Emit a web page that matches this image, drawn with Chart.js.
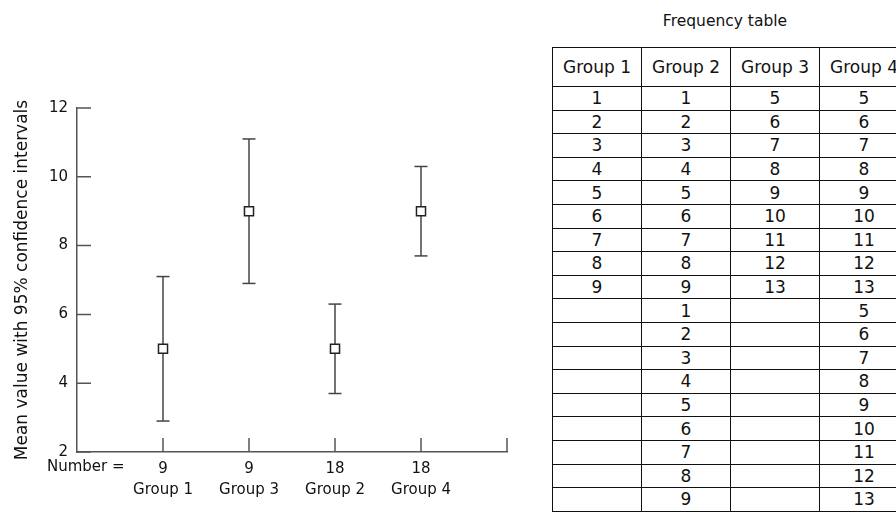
<!DOCTYPE html>
<html><head><meta charset="utf-8">
<script src="https://cdn.jsdelivr.net/npm/chart.js@4.4.0/dist/chart.umd.min.js"></script>
<style>
html,body{margin:0;padding:0;width:896px;height:513px;overflow:hidden;background:#fff;font-family:"DejaVu Sans",sans-serif;color:#111;}
#wrap{position:absolute;left:0;top:0;width:545px;height:513px;}
#title{position:absolute;left:552px;width:346px;top:12px;text-align:center;font-size:15.5px;color:#111;}
#tbl{position:absolute;left:552px;top:47px;border-collapse:collapse;table-layout:fixed;width:356px;}
#tbl td,#tbl th{border:1.5px solid #111;padding:0;text-align:center;font-weight:normal;font-size:17px;color:#111;line-height:18px;overflow:hidden;white-space:nowrap;}
#tbl tr{height:23.6px;}
#tbl tr.head{height:39px;}
</style>
</head><body>
<div id="wrap"><canvas id="c"></canvas></div>
<div id="title">Frequency table</div>
<table id="tbl"></table>
<script>
const groups = ['Group 1', 'Group 3', 'Group 2', 'Group 4'];
const counts = [9, 9, 18, 18];
const positions = [1, 2, 3, 4];
const means = [5.0, 9.0, 5.0, 9.0];
const upper = [7.1, 11.1, 6.3, 10.3];
const lower = [2.9, 6.9, 3.7, 7.7];
const yTicks = [2, 4, 6, 8, 10, 12];
const xTickMarks = [1, 2, 3, 4, 5];

const tableHeaders = ['Group 1', 'Group 2', 'Group 3', 'Group 4'];
const freqGroup1 = [1, 2, 3, 4, 5, 6, 7, 8, 9];
const freqGroup2 = [1, 2, 3, 4, 5, 6, 7, 8, 9, 1, 2, 3, 4, 5, 6, 7, 8, 9];
const freqGroup3 = [5, 6, 7, 8, 9, 10, 11, 12, 13];
const freqGroup4 = [5, 6, 7, 8, 9, 10, 11, 12, 13, 5, 6, 7, 8, 9, 10, 11, 12, 13];

// build the table
(function(){
  const cols = [freqGroup1, freqGroup2, freqGroup3, freqGroup4];
  const nRows = Math.max(...cols.map(c => c.length));
  const tbl = document.getElementById('tbl');
  let html = '<colgroup>' + tableHeaders.map(() => '<col style="width:89px">').join('') + '</colgroup>';
  html += '<tr class="head">' + tableHeaders.map(h => '<th>' + h + '</th>').join('') + '</tr>';
  for (let r = 0; r < nRows; r++) {
    html += '<tr>' + cols.map(c => '<td>' + (r < c.length ? c[r] : '') + '</td>').join('') + '</tr>';
  }
  tbl.innerHTML = html;
})();

Chart.defaults.font.family = '"DejaVu Sans", sans-serif';
Chart.defaults.color = '#111';

const axisColor = '#555';

const tickPlugin = {
  id: 'innerTicks',
  afterDraw(chart) {
    const {ctx, chartArea: a, scales: {x, y}} = chart;
    ctx.save();
    ctx.strokeStyle = axisColor;
    ctx.lineWidth = 1.5;
    ctx.beginPath();
    yTicks.forEach(v => {
      const py = y.getPixelForValue(v);
      ctx.moveTo(a.left, py);
      ctx.lineTo(a.left + 14, py);
    });
    xTickMarks.forEach(v => {
      const px = x.getPixelForValue(v);
      ctx.moveTo(px, a.bottom);
      ctx.lineTo(px, a.bottom - 14);
    });
    ctx.stroke();
    ctx.fillStyle = '#111';
    ctx.font = '15px "DejaVu Sans"';
    ctx.textBaseline = 'middle';
    ctx.textAlign = 'left';
    ctx.fillText('Number =', 47, a.bottom + 15);
    ctx.restore();
  }
};

const whiskerSets = positions.map((p, i) => ({
  type: 'line',
  data: [{x: p, y: lower[i]}, {x: p, y: upper[i]}],
  borderColor: '#444',
  borderWidth: 1.5,
  pointStyle: 'line',
  pointRadius: 6.5,
  pointHoverRadius: 6.5,
  pointBorderColor: '#444',
  pointBorderWidth: 1.5,
  fill: false,
  order: 2
}));

const markerSet = {
  type: 'scatter',
  data: positions.map((p, i) => ({x: p, y: means[i]})),
  pointStyle: 'rect',
  pointRadius: 6.4,
  pointHoverRadius: 6.4,
  backgroundColor: '#fff',
  borderColor: '#222',
  borderWidth: 1.5,
  order: 1
};

new Chart(document.getElementById('c'), {
  type: 'scatter',
  data: { datasets: [markerSet, ...whiskerSets] },
  options: {
    responsive: true,
    maintainAspectRatio: false,
    animation: false,
    events: [],
    layout: { padding: { top: 108, right: 38, left: 0, bottom: 0 } },
    plugins: { legend: { display: false }, tooltip: { enabled: false } },
    scales: {
      x: {
        type: 'linear',
        min: 0, max: 5,
        afterBuildTicks: s => { s.ticks = [0, 1, 2, 3, 4, 5].map(v => ({value: v})); },
        afterFit: s => { s.height = 61; },
        grid: { display: false, drawTicks: false },
        border: { display: true, color: axisColor, width: 1.5 },
        ticks: {
          autoSkip: false,
          maxRotation: 0,
          padding: 7,
          font: { size: 15, lineHeight: 1.4 },
          color: '#111',
          callback: v => {
            const i = positions.indexOf(v);
            return i >= 0 ? [String(counts[i]), groups[i]] : '';
          }
        }
      },
      y: {
        min: 2, max: 12,
        afterBuildTicks: s => { s.ticks = yTicks.map(v => ({value: v})); },
        afterFit: s => { s.width = 77; },
        grid: { display: false, drawTicks: false },
        border: { display: true, color: axisColor, width: 1.5 },
        ticks: { padding: 9, font: { size: 15 }, color: '#111' },
        title: {
          display: true,
          text: 'Mean value with 95% confidence intervals',
          font: { size: 17 },
          color: '#111',
          padding: { top: 12, bottom: 0 }
        }
      }
    }
  },
  plugins: [tickPlugin]
});
</script>
</body></html>
